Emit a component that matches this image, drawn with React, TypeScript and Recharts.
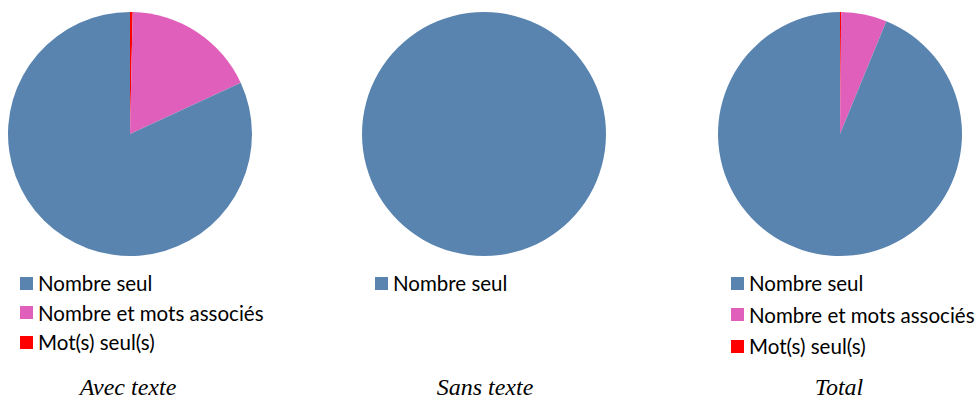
import React from "react";
import { PieChart, Pie, Cell } from "recharts";

const categories = ["Nombre seul", "Nombre et mots associés", "Mot(s) seul(s)"];
const colors = ["#5A84B0", "#E05FBA", "#FF0000"];

// shares in %, same order as categories
const avecTexte = [81.9, 17.75, 0.35];
const sansTexte = [100, 0, 0];
const total = [93.8, 6.05, 0.15];

const titles = ["Avec texte", "Sans texte", "Total"];

interface PanelProps {
  values: number[];
  title: string;
  left: number;
  legendLeft: number;
  rowGap: number;
  titleShift: number;
}

const Panel: React.FC<PanelProps> = ({ values, title, left, legendLeft, rowGap, titleShift }) => {
  // draw clockwise from 12 o'clock: red, pink, then blue
  const data = categories
    .map((name, i) => ({ name, value: values[i], color: colors[i] }))
    .reverse();
  const shown = categories
    .map((name, i) => ({ name, value: values[i], color: colors[i] }))
    .filter((d) => d.value > 0);

  return (
    <>
      <div style={{ position: "absolute", left, top: 0 }}>
        <PieChart width={260} height={270}>
          <Pie
            data={data}
            dataKey="value"
            cx={125}
            cy={129}
            outerRadius={122}
            startAngle={90}
            endAngle={-270}
            stroke="none"
            isAnimationActive={false}
          >
            {data.map((d) => (
              <Cell key={d.name} fill={d.color} />
            ))}
          </Pie>
        </PieChart>
      </div>
      {shown.map((d, i) => (
        <div
          key={d.name}
          style={{
            position: "absolute",
            left: legendLeft,
            top: 268 + i * rowGap,
            height: 30,
            display: "flex",
            alignItems: "center",
            fontFamily: "Lato, sans-serif",
            fontSize: 20.5,
            color: "#000",
            whiteSpace: "nowrap"
          }}
        >
          <span
            style={{
              display: "inline-block",
              width: 13,
              height: 13,
              background: d.color,
              marginRight: 5
            }}
          />
          {d.name}
        </div>
      ))}
      <div
        style={{
          position: "absolute",
          left: left - 2 + titleShift,
          width: 260,
          top: 374,
          textAlign: "center",
          fontFamily: "'Liberation Serif', serif",
          fontStyle: "italic",
          fontSize: 24
        }}
      >
        {title}
      </div>
    </>
  );
};

export default function App() {
  return (
    <div
      style={{
        position: "absolute",
        left: 0,
        top: 0,
        width: 977,
        height: 401,
        background: "#fff",
        overflow: "hidden"
      }}
    >
      <Panel values={avecTexte} title={titles[0]} left={0} legendLeft={20} rowGap={29.5} titleShift={0} />
      <Panel values={sansTexte} title={titles[1]} left={354} legendLeft={375} rowGap={30} titleShift={3} />
      <Panel values={total} title={titles[2]} left={710} legendLeft={731} rowGap={31.5} titleShift={1} />
    </div>
  );
}
